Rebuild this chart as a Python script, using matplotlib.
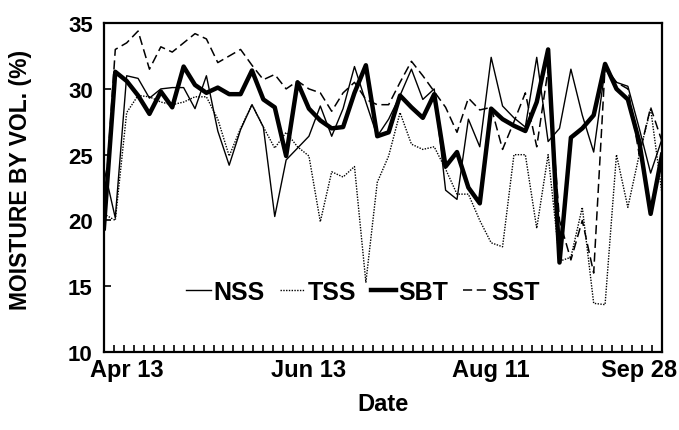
import numpy as np
import matplotlib
matplotlib.use("Agg")
import matplotlib.pyplot as plt
from matplotlib.ticker import FixedLocator

plt.rcParams['font.family'] = ['Liberation Sans', 'DejaVu Sans']
plt.rcParams['font.weight'] = 'bold'
plt.rcParams['axes.labelweight'] = 'bold'

# sampling index (one reading per measurement date)
n_obs = 50
obs = np.arange(n_obs)

date_pos = [2, 18, 34, 47]
date_labels = ['Apr 13', 'Jun 13', 'Aug 11', 'Sep 28']

nss = [24.0, 20.2, 31.0, 30.8, 29.3, 30.0, 30.1, 30.1, 28.5, 31.0,
       26.8, 24.2, 26.9, 28.8, 27.1, 20.3, 24.6, 25.5, 26.4, 28.7,
       26.4, 28.5, 31.7, 29.0, 26.4, 27.7, 29.5, 31.5, 29.2, 30.0,
       22.3, 21.6, 27.7, 25.6, 32.4, 28.7, 27.8, 27.1, 32.4, 26.0,
       27.0, 31.5, 28.0, 25.2, 31.5, 30.5, 30.2, 27.0, 23.6, 26.2]

tss = [20.5, 20.0, 28.2, 29.5, 29.4, 29.0, 28.8, 29.0, 29.4, 29.4,
       27.7, 24.9, 27.0, 28.8, 27.1, 25.5, 26.7, 25.6, 24.9, 19.9,
       23.7, 23.3, 24.1, 15.3, 22.9, 24.9, 28.2, 25.8, 25.4, 25.6,
       23.9, 22.0, 22.0, 20.0, 18.3, 18.0, 25.0, 25.0, 19.4, 25.0,
       16.9, 17.2, 21.0, 13.7, 13.6, 25.0, 21.0, 25.0, 28.5, 22.0]

sbt = [19.4, 31.3, 30.6, 29.5, 28.1, 29.8, 28.6, 31.7, 30.3, 29.7,
       30.1, 29.6, 29.6, 31.4, 29.2, 28.6, 24.9, 30.5, 28.5, 27.6,
       27.0, 27.1, 29.7, 31.8, 26.4, 26.7, 29.5, 28.6, 27.8, 29.6,
       24.1, 25.2, 22.5, 21.3, 28.5, 27.7, 27.2, 26.8, 29.0, 33.0,
       16.8, 26.3, 27.0, 28.0, 31.9, 30.0, 29.2, 26.0, 20.5, 25.0]

sst = [20.0, 33.0, 33.5, 34.4, 31.5, 33.2, 32.8, 33.5, 34.2, 33.8,
       32.0, 32.5, 33.0, 31.8, 30.7, 31.1, 30.0, 30.6, 30.0, 29.7,
       28.3, 29.7, 30.5, 29.2, 28.8, 28.8, 30.5, 32.1, 31.0, 29.8,
       28.6, 26.7, 29.3, 28.4, 28.6, 25.4, 27.5, 29.7, 25.6, 31.5,
       20.0, 17.0, 20.0, 16.0, 31.7, 30.5, 30.0, 25.0, 28.6, 26.0]

fig = plt.figure(figsize=(6.79, 4.31), dpi=100)
ax = fig.add_axes([0.153, 0.181, 0.822, 0.763])

ax.plot(obs, nss, color='black', lw=1.0, label='NSS')
ax.plot(obs, tss, color='black', lw=1.0, ls=(0, (1, 1)), label='TSS')
ax.plot(obs, sbt, color='black', lw=3.2, label='SBT')
ax.plot(obs, sst, color='black', lw=1.1, ls=(0, (6, 3)), label='SST')

ax.set_xlim(0, n_obs - 1)
ax.set_ylim(10, 35)
ax.set_yticks([10, 15, 20, 25, 30, 35])
ax.set_xticks(date_pos)
ax.set_xticklabels(date_labels)
ax.xaxis.set_minor_locator(FixedLocator(np.linspace(0, n_obs - 1, 57)[1:-1]))

ax.tick_params(axis='y', direction='in', length=5, width=1.2, labelsize=16, pad=8)
ax.tick_params(axis='x', which='major', length=0, labelsize=17, pad=4)
ax.tick_params(axis='x', which='minor', direction='in', length=5, width=1.2)
for s in ax.spines.values():
    s.set_linewidth(1.6)

ax.set_xlabel('Date', fontsize=17, labelpad=8)
ax.set_ylabel('MOISTURE BY VOL. (%)', fontsize=16.5)
ax.yaxis.set_label_coords(-0.129, 0.526)

ax.legend(loc='center', bbox_to_anchor=(0.464, 0.182), ncol=4, frameon=False,
          prop={'size': 18, 'weight': 'bold'}, handlelength=1.0,
          handletextpad=0.1, columnspacing=0.6, borderpad=0)

plt.savefig('out.png', dpi=100)
